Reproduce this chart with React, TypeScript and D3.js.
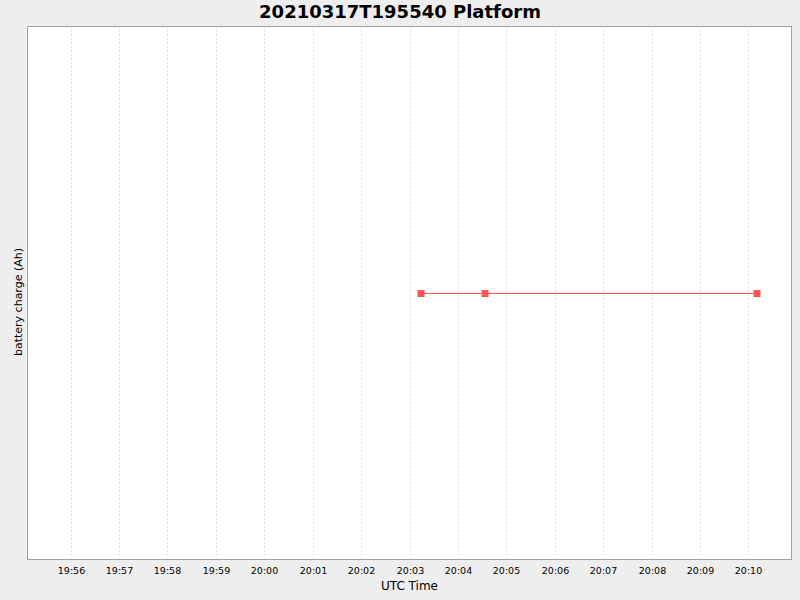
import React from 'react';
import * as d3 from 'd3';

const title = '20210317T195540 Platform';
const xLabel = 'UTC Time';
const yLabel = 'battery charge (Ah)';

// sample times (UTC, 2021-03-17) and charge values
const sampleTimes = ['20:03:14', '20:04:33', '20:10:11'];
const chargeValues = [100, 100, 100];

const axisStart = '19:55:06';
const axisEnd = '20:10:54';
const tickLabels = ['19:56', '19:57', '19:58', '19:59', '20:00', '20:01', '20:02', '20:03',
  '20:04', '20:05', '20:06', '20:07', '20:08', '20:09', '20:10'];

const parseTime = (s: string) => {
  const p = s.split(':').map(Number);
  return new Date(Date.UTC(2021, 2, 17, p[0], p[1], p[2] || 0));
};

const width = 800;
const height = 600;
const margin = { top: 26, right: 8, bottom: 40, left: 27 };

const App: React.FC = () => {
  const x = d3.scaleUtc()
    .domain([parseTime(axisStart), parseTime(axisEnd)])
    .range([margin.left, width - margin.right]);

  // half-pixel offset keeps the 1px series line crisp
  const y = d3.scaleLinear()
    .domain([99, 101])
    .range([height - margin.bottom + 0.5, margin.top + 0.5]);

  const points = sampleTimes.map((t, i) => ({ t: parseTime(t), v: chargeValues[i] }));

  const line = d3.line<{ t: Date; v: number }>()
    .x(d => x(d.t))
    .y(d => y(d.v));

  const plotW = width - margin.left - margin.right;
  const plotH = height - margin.top - margin.bottom;
  const font = '"DejaVu Sans", sans-serif';

  return (
    <svg width={width} height={height} style={{ position: 'absolute', left: 0, top: 0 }}
      fontFamily={font}>
      <rect x={0} y={0} width={width} height={height} fill="#eeeeee" />
      <rect x={margin.left} y={margin.top} width={plotW} height={plotH} fill="#ffffff" />

      {tickLabels.map(l => {
        const xp = Math.round(x(parseTime(l))) + 0.5;
        return (
          <g key={l}>
            <line x1={xp} x2={xp} y1={margin.top} y2={height - margin.bottom}
              stroke="#e0e0e0" strokeWidth={1} strokeDasharray="2,2" />
            <text x={xp} y={height - margin.bottom + 14} textAnchor="middle" fontSize={9.5}
              fill="#000">{l}</text>
          </g>
        );
      })}

      <rect x={margin.left + 0.5} y={margin.top + 0.5} width={plotW - 1} height={plotH - 1}
        fill="none" stroke="#a0a0a0" strokeWidth={1} />

      <path d={line(points) || ''} fill="none" stroke="#ff5555" strokeWidth={1} />
      {points.map((d, i) => (
        <rect key={i} x={Math.round(x(d.t)) - 3.5} y={y(d.v) - 3.5} width={7} height={7} fill="#ff5555" />
      ))}

      <text x={width / 2} y={18} textAnchor="middle" fontSize={18} fontWeight="bold"
        fill="#000">{title}</text>
      <text x={margin.left + plotW / 2} y={590} textAnchor="middle" fontSize={12}
        fill="#000">{xLabel}</text>
      <text transform={`translate(22, 302) rotate(-90)`} textAnchor="middle" fontSize={11}
        fill="#000">{yLabel}</text>
    </svg>
  );
};

export default App;
